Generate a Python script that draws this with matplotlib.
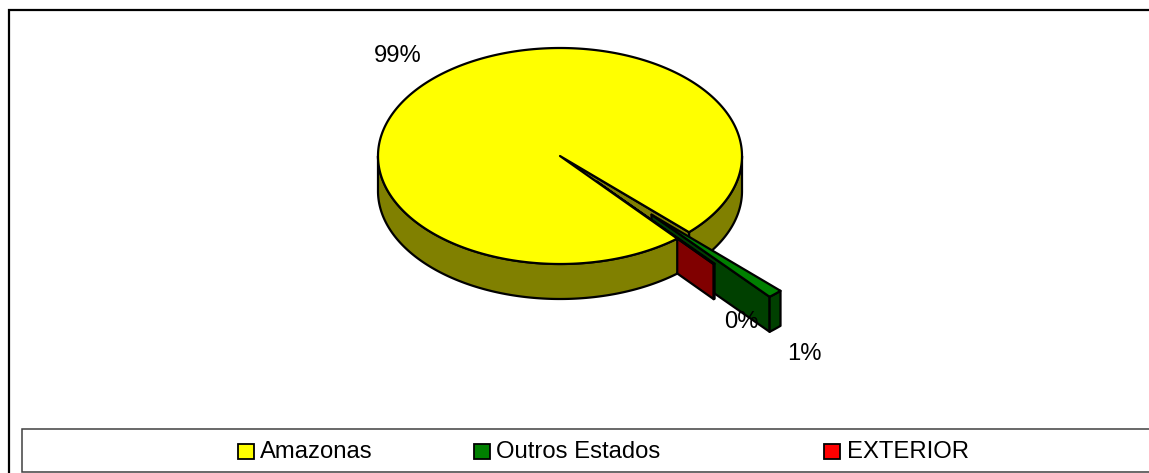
import numpy as np
import matplotlib
matplotlib.use("Agg")
import matplotlib.pyplot as plt
from matplotlib.patches import Polygon, Rectangle

plt.rcParams['font.family'] = ['Liberation Sans', 'DejaVu Sans']

# dados
categorias = ['Amazonas', 'Outros Estados', 'EXTERIOR']
valores = [98.6, 1.3, 0.1]
rotulos = ['99%', '1%', '0%']
explode = [0.0, 0.74, 0.31]
cores_topo = ['#FFFF00', '#008000', '#FF0000']
cores_lado = ['#808000', '#004000', '#800000']

# geometria do "3D" em pixels
cx, cy = 560, 156
rx, ry = 182, 108
prof = 35
inicio = -49.9  # angulo onde comeca a primeira fatia, sentido horario
meia = dict(edgecolor='black', linewidth=1.6, joinstyle='round')


def ponto(ang, exp_ang=0.0, exp=0.0):
    """angulo em graus -> pixel na elipse, com deslocamento da fatia"""
    a = np.radians(ang)
    e = np.radians(exp_ang)
    return (cx + rx * (np.cos(a) + exp * np.cos(e)),
            cy - ry * (np.sin(a) + exp * np.sin(e)))


def centro(exp_ang=0.0, exp=0.0):
    e = np.radians(exp_ang)
    return (cx + rx * exp * np.cos(e), cy - ry * exp * np.sin(e))


def desce(p):
    return (p[0], p[1] + prof)


def arco(a0, a1, exp_ang=0.0, exp=0.0, n=300):
    return [ponto(a, exp_ang, exp) for a in np.linspace(a0, a1, n)]


fig = plt.figure(figsize=(11.49, 4.73), dpi=100)
ax = fig.add_axes([0, 0, 1, 1])
ax.set_xlim(0, 1149)
ax.set_ylim(473, 0)
ax.axis('off')

# angulos das fatias a partir dos valores
total = sum(valores)
limites = [inicio]
for v in valores:
    limites.append(limites[-1] - v / total * 360)

# moldura externa
ax.plot([9, 9, 1149], [473, 10, 10], color='black', lw=1.6, solid_joinstyle='miter')

# fatia grande: parede direita e parede do corte, ficam atras das outras
a_ini, a_fim = limites[0], limites[1]
fim_norm = a_fim + 360
ax.add_patch(Polygon(arco(fim_norm, 0) + [desce(p) for p in arco(0, fim_norm)],
                     facecolor=cores_lado[0], **meia))
p_corte = ponto(fim_norm)
ax.add_patch(Polygon([(cx, cy), p_corte, desce(p_corte), desce((cx, cy))],
                     facecolor=cores_lado[0], **meia))

# fatias pequenas deslocadas
for i in [1, 2]:
    a0 = limites[i] + 360
    a1 = limites[i + 1] + 360
    m = (a0 + a1) / 2
    c = centro(m, explode[i])
    ext = arco(a0, a1, m, explode[i], n=20)
    fim_p = ext[-1]
    # lado do corte voltado para a frente
    ax.add_patch(Polygon([c, fim_p, desce(fim_p), desce(c)],
                         facecolor=cores_lado[i], **meia))
    # lado externo
    ax.add_patch(Polygon(ext + [desce(p) for p in ext[::-1]],
                         facecolor=cores_lado[i], **meia))
    # topo
    ax.add_patch(Polygon([c] + ext, facecolor=cores_topo[i], **meia))

# fatia grande: parede da frente e topo
ax.add_patch(Polygon(arco(a_ini, -180) + [desce(p) for p in arco(-180, a_ini)],
                     facecolor=cores_lado[0], **meia))
ax.add_patch(Polygon([(cx, cy)] + arco(a_ini, a_fim, n=800),
                     facecolor=cores_topo[0], **meia))

# rotulos de porcentagem
pos_rotulos = [(398, 56), (804, 354), (741, 322)]
for txt, (x, y) in zip(rotulos, pos_rotulos):
    ax.text(x, y, txt, fontsize=17.2, ha='center', va='center', color='black')

# legenda
ax.add_patch(Rectangle((22, 429), 1140, 43, facecolor='white', edgecolor='#404040', linewidth=1.1))
pos_quad = [238, 474, 824]
pos_txt = [260, 496, 847]
for nome, cor, xq, xt in zip(categorias, cores_topo, pos_quad, pos_txt):
    ax.add_patch(Rectangle((xq, 444), 16, 15, facecolor=cor, edgecolor='black', linewidth=1.3))
    ax.text(xt, 452, nome, fontsize=17.2, ha='left', va='center', color='black')

fig.savefig('out.png', dpi=100)
